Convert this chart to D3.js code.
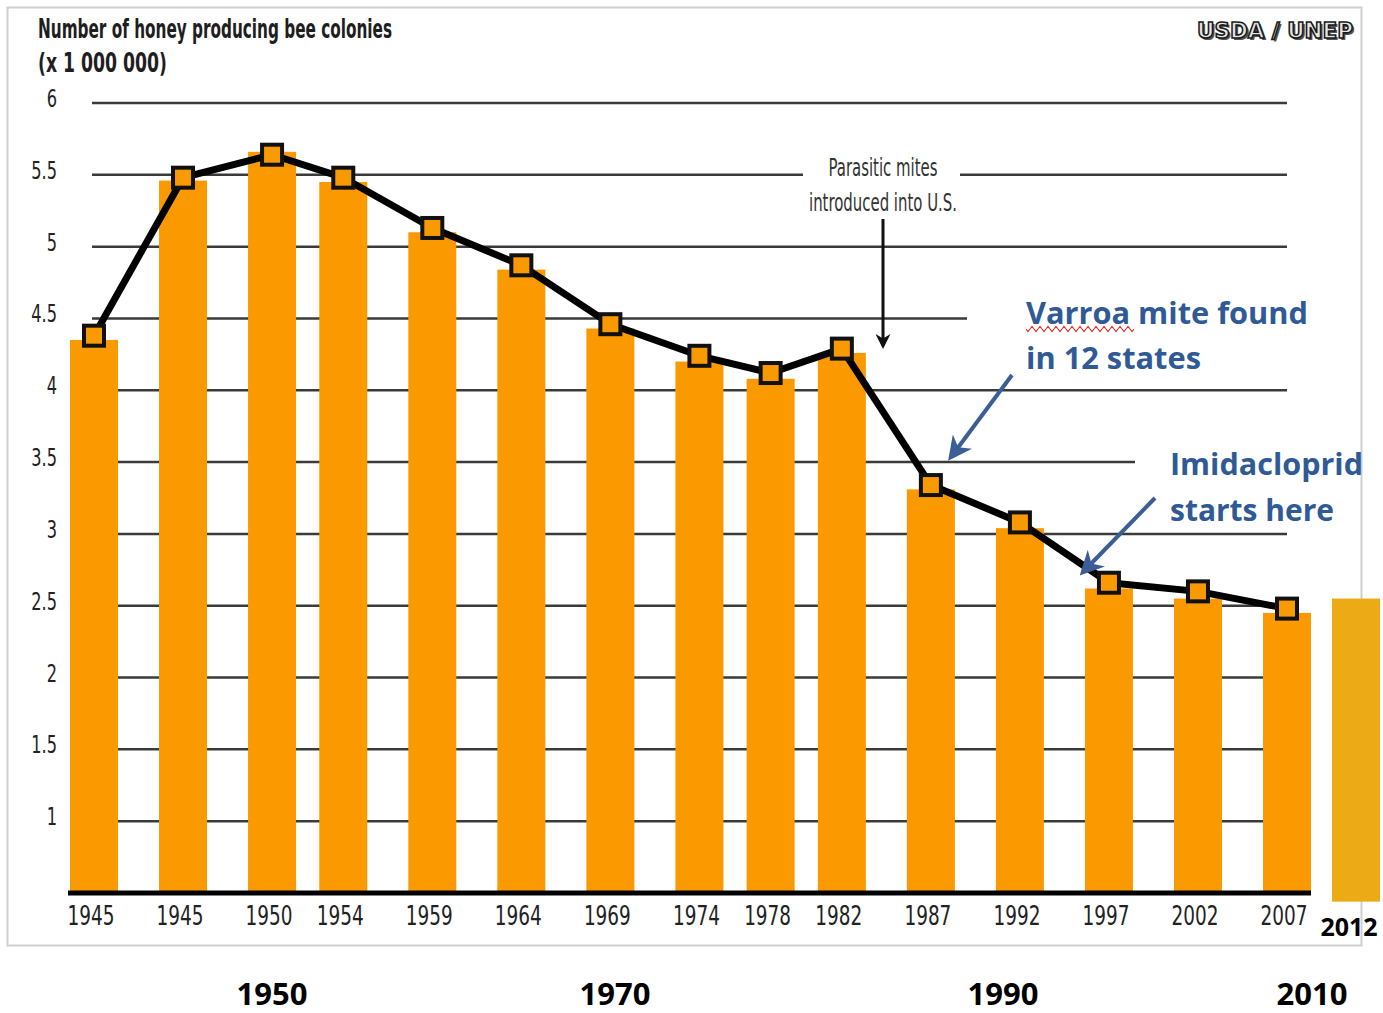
<!DOCTYPE html>
<html>
<head>
<meta charset="utf-8">
<script src="https://cdn.jsdelivr.net/npm/d3@7"></script>
<style>
  body { margin: 0; background: #fff; }
  svg { display: block; }
</style>
</head>
<body>
<svg id="chart" width="1383" height="1013"></svg>
<script>
// years used to place the bars (first bar is labelled 1945 in the original too)
var barYears = [1940, 1945, 1950, 1954, 1959, 1964, 1969, 1974, 1978, 1982, 1987, 1992, 1997, 2002, 2007];
var yearLabels = ["1945", "1945", "1950", "1954", "1959", "1964", "1969", "1974", "1978", "1982", "1987", "1992", "1997", "2002", "2007"];
// colonies in millions
var barValues = [4.35, 5.46, 5.66, 5.45, 5.10, 4.84, 4.43, 4.20, 4.08, 4.26, 3.31, 3.04, 2.62, 2.55, 2.45];
var lineValues = [4.38, 5.48, 5.64, 5.48, 5.13, 4.87, 4.46, 4.24, 4.12, 4.29, 3.34, 3.08, 2.66, 2.60, 2.48];
var gridValues = [1, 1.5, 2, 2.5, 3, 3.5, 4, 4.5, 5, 5.5, 6];
var gridLabels = ["1", "1.5", "2", "2.5", "3", "3.5", "4", "4.5", "5", "5.5", "6"];
var extraLabel = "2012";
var extraValue = 2.55;
var decadeLabels = ["1950", "1970", "1990", "2010"];

var svg = d3.select("#chart");

var x = d3.scaleLinear().domain([1940, 2007]).range([94, 1287]);
var y = d3.scaleLinear().domain([0.5, 6]).range([893, 103]);
var barW = 48;

// squeeze text horizontally, the original uses a condensed face
function squeeze(sel, k) {
    sel.each(function() {
        var w = this.getComputedTextLength();
        d3.select(this).attr("textLength", w * k).attr("lengthAdjust", "spacingAndGlyphs");
    });
}

// frame
svg.append("rect")
    .attr("x", 7.5).attr("y", 7.5)
    .attr("width", 1354).attr("height", 938)
    .attr("fill", "#fff")
    .attr("stroke", "#cfcfcf")
    .attr("stroke-width", 2);

// gridlines
svg.selectAll("line.grid")
    .data(gridValues)
    .enter()
    .append("line")
    .attr("class", "grid")
    .attr("x1", x(1940) - 2)
    .attr("x2", x(2007))
    .attr("y1", function(d) { return y(d); })
    .attr("y2", function(d) { return y(d); })
    .attr("stroke", "#3a3a3a")
    .attr("stroke-width", 2.5);

// white boxes behind annotations (they cut the gridlines)
svg.append("rect").attr("x", 803).attr("y", 150).attr("width", 157).attr("height", 68).attr("fill", "#fff");
svg.append("rect").attr("x", 967).attr("y", 292).attr("width", 330).attr("height", 84).attr("fill", "#fff");
svg.append("rect").attr("x", 1135).attr("y", 440).attr("width", 225).attr("height", 88).attr("fill", "#fff");

// y labels
var yl = svg.selectAll("text.ylab")
    .data(gridValues)
    .enter()
    .append("text")
    .attr("class", "ylab")
    .attr("x", 57)
    .attr("y", function(d) { return y(d) + 4; })
    .attr("text-anchor", "end")
    .attr("font-family", "'Liberation Sans Narrow', 'DejaVu Sans Condensed', sans-serif")
    .attr("font-size", 25)
    .attr("fill", "#222")
    .text(function(d, i) { return gridLabels[i]; });
squeeze(yl, 0.72);

// bars
svg.selectAll("rect.bar")
    .data(barValues)
    .enter()
    .append("rect")
    .attr("class", "bar")
    .attr("x", function(d, i) { return x(barYears[i]) - barW / 2; })
    .attr("y", function(d) { return y(d); })
    .attr("width", barW)
    .attr("height", function(d) { return y(0.5) - y(d); })
    .attr("fill", "#FB9A00");

// extra 2012 bar pasted on the right
var extraX = x(2007) + 69;
svg.append("rect")
    .attr("x", extraX - barW / 2)
    .attr("y", y(extraValue))
    .attr("width", barW)
    .attr("height", y(0.44) - y(extraValue))
    .attr("fill", "#EBAA16");
svg.append("text")
    .attr("x", extraX - 7)
    .attr("y", 936)
    .attr("text-anchor", "middle")
    .attr("font-family", "'Open Sans', sans-serif")
    .attr("font-weight", 700)
    .attr("font-size", 25)
    .attr("fill", "#000")
    .text(extraLabel);

// baseline
svg.append("line")
    .attr("x1", x(1940) - 26).attr("x2", x(2007) + 24)
    .attr("y1", y(0.5)).attr("y2", y(0.5))
    .attr("stroke", "#000")
    .attr("stroke-width", 5);

// x labels
var xl = svg.selectAll("text.xlab")
    .data(yearLabels)
    .enter()
    .append("text")
    .attr("class", "xlab")
    .attr("x", function(d, i) { return x(barYears[i]) - 3; })
    .attr("y", 925)
    .attr("text-anchor", "middle")
    .attr("font-family", "'Liberation Sans Narrow', 'DejaVu Sans Condensed', sans-serif")
    .attr("font-size", 27)
    .attr("fill", "#222")
    .text(function(d) { return d; });
squeeze(xl, 0.76);

// line + markers
var line = d3.line()
    .x(function(d, i) { return x(barYears[i]); })
    .y(function(d) { return y(d); });

svg.append("path")
    .datum(lineValues)
    .attr("d", line)
    .attr("fill", "none")
    .attr("stroke", "#000")
    .attr("stroke-width", 7)
    .attr("stroke-linejoin", "round");

svg.selectAll("rect.marker")
    .data(lineValues)
    .enter()
    .append("rect")
    .attr("class", "marker")
    .attr("x", function(d, i) { return x(barYears[i]) - 10; })
    .attr("y", function(d) { return y(d) - 10; })
    .attr("width", 20)
    .attr("height", 20)
    .attr("fill", "#F99A00")
    .attr("stroke", "#111")
    .attr("stroke-width", 4);

// title
svg.append("text")
    .attr("x", 38).attr("y", 38)
    .attr("font-family", "'Liberation Sans Narrow', 'DejaVu Sans Condensed', sans-serif")
    .attr("font-weight", 700)
    .attr("font-size", 26)
    .attr("fill", "#1e1e1e")
    .attr("textLength", 354).attr("lengthAdjust", "spacingAndGlyphs")
    .text("Number of honey producing bee colonies");
svg.append("text")
    .attr("x", 38).attr("y", 72)
    .attr("font-family", "'Liberation Sans Narrow', 'DejaVu Sans Condensed', sans-serif")
    .attr("font-weight", 700)
    .attr("font-size", 26)
    .attr("fill", "#1e1e1e")
    .attr("textLength", 129).attr("lengthAdjust", "spacingAndGlyphs")
    .text("(x 1 000 000)");

// source tag
svg.append("text")
    .attr("x", 1199).attr("y", 40)
    .attr("font-family", "'DejaVu Sans', sans-serif")
    .attr("font-weight", 700)
    .attr("font-size", 22)
    .attr("fill", "#555")
    .attr("textLength", 156).attr("lengthAdjust", "spacingAndGlyphs")
    .text("USDA / UNEP");
svg.append("text")
    .attr("x", 1197).attr("y", 38)
    .attr("font-family", "'DejaVu Sans', sans-serif")
    .attr("font-weight", 700)
    .attr("font-size", 22)
    .attr("fill", "#e6e6e6")
    .attr("stroke", "#1a1a1a")
    .attr("stroke-width", 1.6)
    .attr("textLength", 156).attr("lengthAdjust", "spacingAndGlyphs")
    .text("USDA / UNEP");

// arrowheads
var defs = svg.append("defs");
defs.append("marker")
    .attr("id", "headBlack")
    .attr("viewBox", "0 0 10 10")
    .attr("refX", 8).attr("refY", 5)
    .attr("markerWidth", 5).attr("markerHeight", 5)
    .attr("orient", "auto")
    .append("path").attr("d", "M0,0 L10,5 L0,10 L3,5 Z").attr("fill", "#111");
defs.append("marker")
    .attr("id", "headBlue")
    .attr("viewBox", "0 0 10 10")
    .attr("refX", 8).attr("refY", 5)
    .attr("markerWidth", 6).attr("markerHeight", 6)
    .attr("orient", "auto")
    .append("path").attr("d", "M0,0 L10,5 L0,10 L3,5 Z").attr("fill", "#3B5E97");

// parasitic mites note
var pm = svg.append("g")
    .attr("font-family", "'Liberation Sans Narrow', 'DejaVu Sans Condensed', sans-serif")
    .attr("font-size", 25)
    .attr("fill", "#333")
    .attr("text-anchor", "middle");
pm.append("text").attr("x", 883).attr("y", 176).attr("textLength", 109).attr("lengthAdjust", "spacingAndGlyphs").text("Parasitic mites");
pm.append("text").attr("x", 883).attr("y", 211).attr("textLength", 148).attr("lengthAdjust", "spacingAndGlyphs").text("introduced into U.S.");
svg.append("line")
    .attr("x1", 883).attr("y1", 219)
    .attr("x2", 883).attr("y2", 346)
    .attr("stroke", "#111")
    .attr("stroke-width", 3)
    .attr("marker-end", "url(#headBlack)");

// blue annotations
var blue = "#2F5A96";
var ba = svg.append("g")
    .attr("font-family", "'Open Sans', sans-serif")
    .attr("font-weight", 700)
    .attr("font-size", 31)
    .attr("fill", blue);
ba.append("text").attr("x", 1026).attr("y", 324).attr("textLength", 282).attr("lengthAdjust", "spacingAndGlyphs").text("Varroa mite found");
ba.append("text").attr("x", 1026).attr("y", 369).attr("textLength", 175).attr("lengthAdjust", "spacingAndGlyphs").text("in 12 states");
ba.append("text").attr("x", 1170).attr("y", 475).attr("textLength", 193).attr("lengthAdjust", "spacingAndGlyphs").text("Imidacloprid");
ba.append("text").attr("x", 1170).attr("y", 521).attr("textLength", 164).attr("lengthAdjust", "spacingAndGlyphs").text("starts here");

// red spell-check squiggle under "Varroa"
var sq = "M1026,329";
for (var i = 0; i < 27; i++) {
    sq += " l2," + (i % 2 === 0 ? 2.5 : -2.5) + " l2," + (i % 2 === 0 ? -2.5 : 2.5);
}
svg.append("path").attr("d", sq).attr("fill", "none").attr("stroke", "#e03030").attr("stroke-width", 1.2);

svg.append("line")
    .attr("x1", 1012).attr("y1", 375)
    .attr("x2", 951).attr("y2", 457)
    .attr("stroke", "#3B5E97")
    .attr("stroke-width", 4)
    .attr("marker-end", "url(#headBlue)");
svg.append("line")
    .attr("x1", 1155).attr("y1", 498)
    .attr("x2", 1083).attr("y2", 572)
    .attr("stroke", "#3B5E97")
    .attr("stroke-width", 4)
    .attr("marker-end", "url(#headBlue)");

// decade labels under the frame
var decadeX = d3.scaleOrdinal().domain(decadeLabels).range([272, 615, 1003, 1312]);
svg.selectAll("text.decade")
    .data(decadeLabels)
    .enter()
    .append("text")
    .attr("class", "decade")
    .attr("x", function(d) { return decadeX(d); })
    .attr("y", 1005)
    .attr("text-anchor", "middle")
    .attr("font-family", "'Open Sans', sans-serif")
    .attr("font-weight", 700)
    .attr("font-size", 31)
    .attr("fill", "#000")
    .text(function(d) { return d; });
</script>
</body>
</html>
